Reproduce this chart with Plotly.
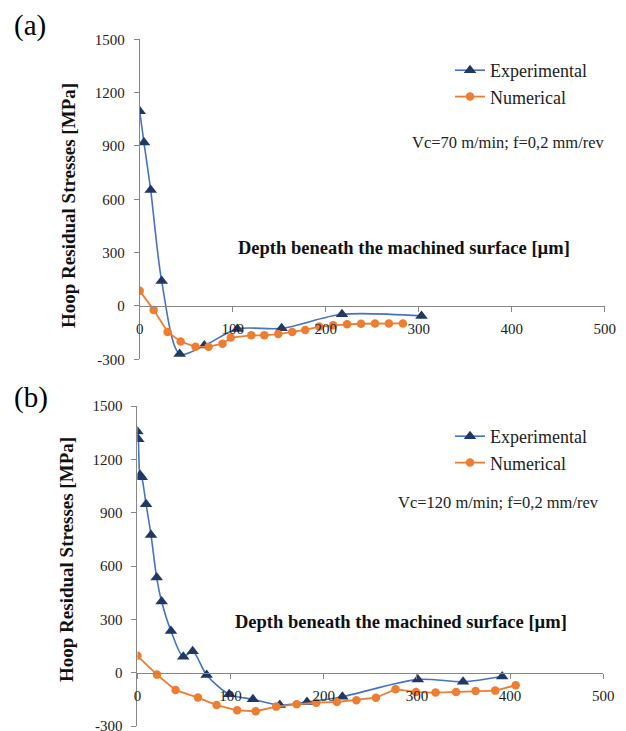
import plotly.graph_objects as go

# ---------------- data ----------------
exp_a_x = [0, 4.6, 11.8, 23.6, 43, 69.5, 105, 152.6, 217.5, 303]
exp_a_y = [1095, 919, 653, 141, -270, -223, -129, -126, -47, -56]
num_a_x = [0, 15, 30, 44, 60, 74, 89, 98, 120, 134, 149, 164, 178, 193, 208, 223, 238, 253, 268, 283]
num_a_y = [86, -22, -146, -200, -230, -229, -212, -178, -165, -165, -158, -146, -135, -116, -109, -103, -100, -98, -98, -98]

exp_b_x = [0, 1, 2.8, 4.6, 9.3, 14.6, 20.7, 26, 36, 49.2, 59.3, 74.3, 98.5, 124, 152.8, 182, 220, 301, 349.5, 391.5]
exp_b_y = [1356, 1313, 1112, 1099, 947, 775, 535, 400, 235, 90, 120, -13, -122, -150, -182, -165, -135, -38, -51, -22]
num_b_x = [0, 21, 41, 65, 85, 107, 127, 149, 171, 192, 214, 235, 256, 277, 299, 320, 342, 363, 384, 406]
num_b_y = [95, -11, -98, -140, -182, -212, -217, -191, -178, -169, -165, -155, -141, -93, -109, -112, -109, -103, -101, -71]

x_ticks = [0, 100, 200, 300, 400, 500]
y_ticks = [-300, 0, 300, 600, 900, 1200, 1500]
panel_labels = ["(a)", "(b)"]
conditions = ["Vc=70 m/min; f=0,2 mm/rev", "Vc=120 m/min; f=0,2 mm/rev"]
x_title = "Depth beneath the machined surface [µm]"
y_title = "Hoop Residual Stresses [MPa]"

# ---------------- style ----------------
PAGE_W, PAGE_H = 626, 731
OFF = 8  # default page body margin
W, H = PAGE_W - OFF, PAGE_H - OFF
SERIF = '"Liberation Serif", "Times New Roman", serif'
BLUE_LINE = "#4472C4"
BLUE_MARK = "#1F3864"
ORANGE = "#ED7D31"
AXIS = "#868686"
TXT = "#222222"

def px_x(p):
    return (p - OFF) / W

def px_y(p):
    return 1 - (p - OFF) / H

# plot areas in page pixels (left, right, top, bottom)
area_a = (139.7, 604.7, 39.3, 359.3)
area_b = (137.4, 603.3, 406.0, 726.0)

fig = go.Figure()

def add_panel(ex, ey, nx, ny, legend_name, xa, ya):
    fig.add_trace(go.Scatter(
        x=ex, y=ey, name="Experimental", mode="lines+markers",
        line=dict(color=BLUE_LINE, width=1.6, shape="spline", smoothing=0.8),
        marker=dict(symbol="triangle-up", size=11, color=BLUE_MARK),
        xaxis=xa, yaxis=ya, legend=legend_name))
    fig.add_trace(go.Scatter(
        x=nx, y=ny, name="Numerical", mode="lines+markers",
        line=dict(color=ORANGE, width=1.8),
        marker=dict(symbol="circle", size=8.5, color=ORANGE),
        xaxis=xa, yaxis=ya, legend=legend_name))

add_panel(exp_a_x, exp_a_y, num_a_x, num_a_y, "legend", "x", "y")
add_panel(exp_b_x, exp_b_y, num_b_x, num_b_y, "legend2", "x2", "y2")

def axes(area):
    l, r, t, b = area
    xd = [px_x(l), px_x(r)]
    yd = [px_y(b), px_y(t)]
    zero_pos = yd[0] + (0 - (-300)) / 1800 * (yd[1] - yd[0])
    return xd, yd, zero_pos

xd_a, yd_a, z_a = axes(area_a)
xd_b, yd_b, z_b = axes(area_b)

tickfont = dict(family=SERIF, size=15, color=TXT)

def xaxis_cfg(xd, zpos):
    return dict(domain=xd, range=[0, 500], tickvals=x_ticks, ticktext=[str(v) for v in x_ticks],
                anchor="free", position=zpos, automargin=False,
                showline=True, linecolor=AXIS, linewidth=1, ticks="outside", ticklen=5,
                tickcolor=AXIS, showgrid=False, zeroline=False, tickfont=tickfont,
                ticklabelstandoff=4, ticklabeloverflow="allow")

def yaxis_cfg(yd, xa):
    return dict(domain=yd, range=[-300, 1500], tickvals=y_ticks, ticktext=[str(v) for v in y_ticks],
                anchor=xa, automargin=False, showline=True, linecolor=AXIS, linewidth=1,
                ticks="outside", ticklen=5,
                tickcolor=AXIS, showgrid=False, zeroline=False, tickfont=tickfont,
                ticklabelstandoff=6, ticklabeloverflow="allow")

legend_font = dict(family=SERIF, size=18, color=TXT)

fig.update_layout(
    width=W, height=H,
    margin=dict(l=0, r=0, t=0, b=0, pad=0, autoexpand=False),
    font=dict(family=SERIF, color=TXT),
    paper_bgcolor="white", plot_bgcolor="white",
    showlegend=True,
    xaxis=xaxis_cfg(xd_a, z_a), yaxis=yaxis_cfg(yd_a, "x"),
    xaxis2=xaxis_cfg(xd_b, z_b), yaxis2=yaxis_cfg(yd_b, "x2"),
    legend=dict(x=px_x(450), y=px_y(52), xanchor="left", yanchor="top",
                font=legend_font, bgcolor="rgba(0,0,0,0)", tracegroupgap=0),
    legend2=dict(x=px_x(450), y=px_y(418), xanchor="left", yanchor="top",
                 font=legend_font, bgcolor="rgba(0,0,0,0)", tracegroupgap=0),
)

annotations = []
for lab, yc in zip(panel_labels, [25, 397]):
    annotations.append(dict(text=lab, x=px_x(12), y=px_y(yc), xref="paper", yref="paper",
                            xanchor="left", yanchor="middle", showarrow=False,
                            font=dict(family=SERIF, size=29, color="#000")))
for txt, xr, yc in zip(conditions, [607, 601], [142, 502]):
    annotations.append(dict(text=txt, x=px_x(xr), y=px_y(yc), xref="paper", yref="paper",
                            xanchor="right", yanchor="middle", showarrow=False,
                            font=dict(family=SERIF, size=16.5, color=TXT)))
for xc, yc in [(404, 248), (401, 622)]:
    annotations.append(dict(text="<b>" + x_title + "</b>", x=px_x(xc), y=px_y(yc),
                            xref="paper", yref="paper", xanchor="center", yanchor="middle",
                            showarrow=False, font=dict(family=SERIF, size=18.5, color="#111")))
for xc, yc in [(68, 206), (66, 560)]:
    annotations.append(dict(text="<b>" + y_title + "</b>", x=px_x(xc), y=px_y(yc),
                            xref="paper", yref="paper", xanchor="center", yanchor="middle",
                            textangle=-90, showarrow=False,
                            font=dict(family=SERIF, size=19, color="#111")))
fig.update_layout(annotations=annotations)

fig.write_html("out.html")
